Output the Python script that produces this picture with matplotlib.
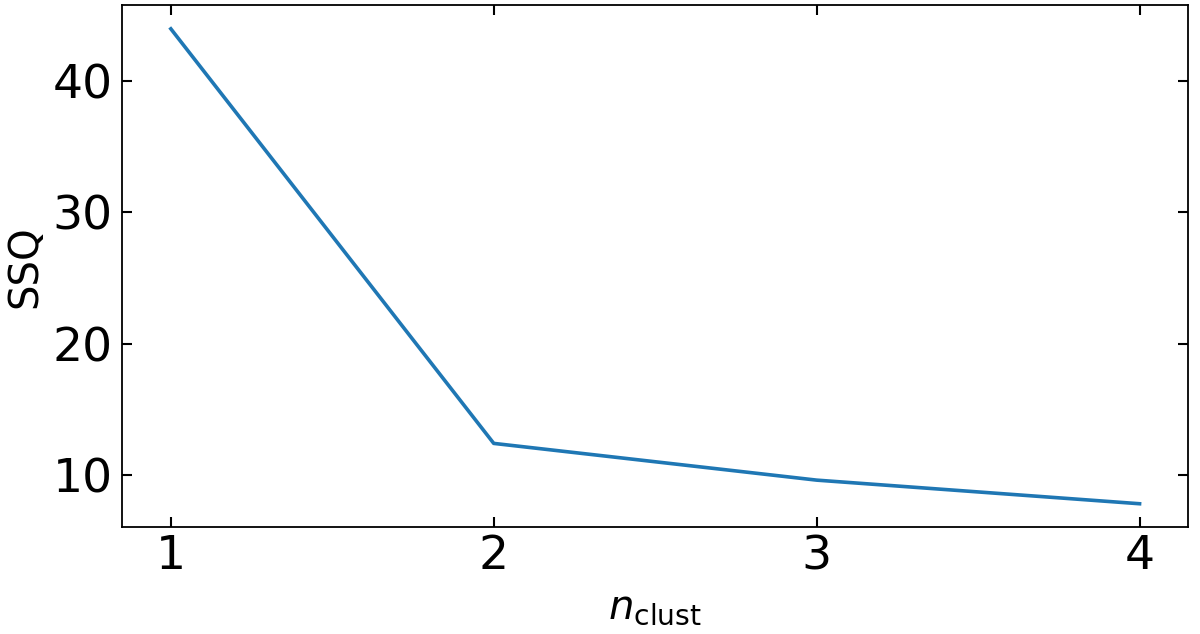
import matplotlib
matplotlib.use("Agg")
import matplotlib.pyplot as plt

# Data
n_clust = [1, 2, 3, 4]
ssq = [44.0, 12.4, 9.6, 7.8]

fig, ax = plt.subplots(figsize=(12, 6.34), dpi=100)
ax.plot(n_clust, ssq, color='tab:blue', linewidth=2.6)

ax.set_xticks(n_clust)
ax.set_yticks([10, 20, 30, 40])
ax.tick_params(direction='in', top=True, right=True, length=7, width=1.5, labelsize=34)
ax.tick_params(axis='x', pad=5)
ax.tick_params(axis='y', pad=7)
for s in ax.spines.values():
    s.set_linewidth(1.3)

ax.set_xlabel(r'$n_\mathrm{clust}$', fontsize=29, labelpad=6)
ax.set_ylabel('SSQ', fontsize=29, labelpad=5)

plt.subplots_adjust(left=0.102, right=0.99, top=0.992, bottom=0.168)
plt.savefig("out.png")
